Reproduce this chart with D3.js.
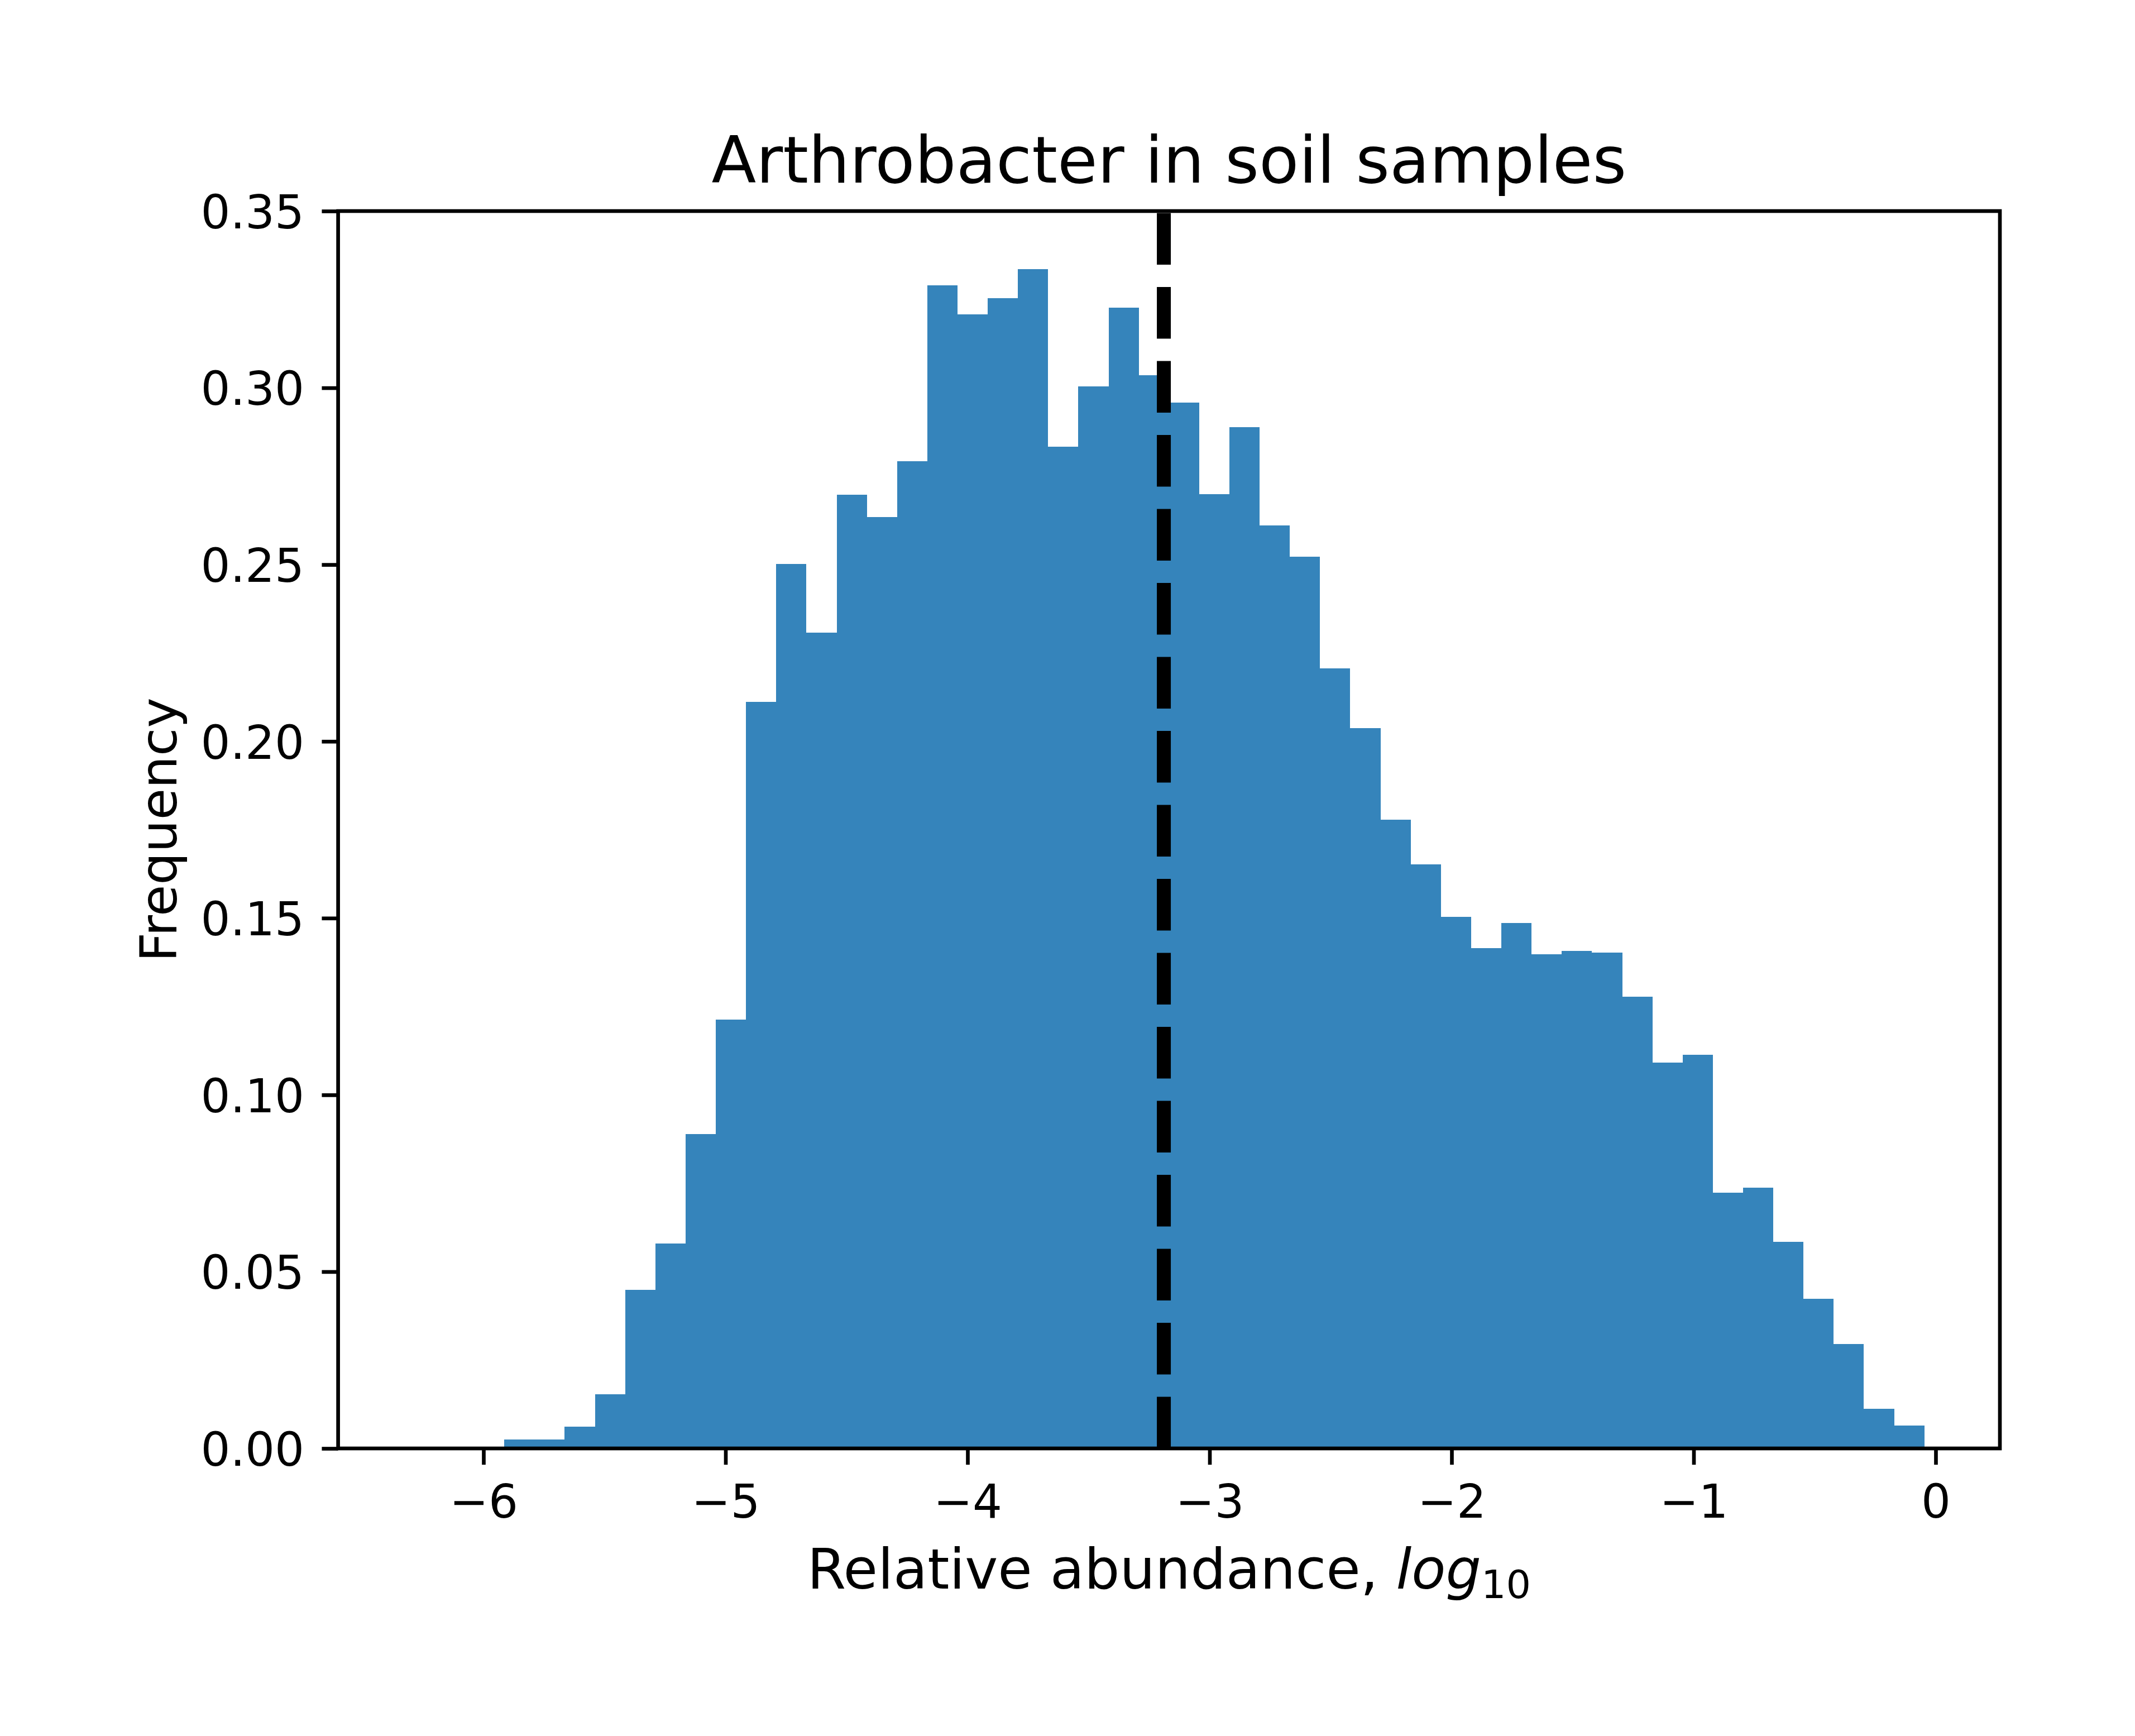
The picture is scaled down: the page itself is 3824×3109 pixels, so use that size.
<!DOCTYPE html>
<html>
<head>
<meta charset="utf-8">
<script src="https://cdn.jsdelivr.net/npm/d3@7"></script>
<style>
  html, body { margin: 0; padding: 0; background: #fff; }
  svg { display: block; }
</style>
</head>
<body>
<script>
// histogram of log10 relative abundance, 50 equal bins
const binMin = -6.2886;
const binMax = -0.0468;
const frequency = [
  0, 0, 0, 0.0025, 0.0025, 0.0062, 0.0153, 0.0449, 0.0579, 0.0890,
  0.1213, 0.2112, 0.2502, 0.2307, 0.2697, 0.2635, 0.2793, 0.3290, 0.3208, 0.3254,
  0.3335, 0.2834, 0.3004, 0.3227, 0.3035, 0.2959, 0.2699, 0.2889, 0.2611, 0.2523,
  0.2207, 0.2038, 0.1779, 0.1652, 0.1504, 0.1415, 0.1487, 0.1397, 0.1407, 0.1402,
  0.1278, 0.1092, 0.1113, 0.0723, 0.0738, 0.0585, 0.0423, 0.0296, 0.0112, 0.0064
];
const medianValue = -3.189;
const xTicks = [-6, -5, -4, -3, -2, -1, 0];
const yTicks = [0, 0.05, 0.10, 0.15, 0.20, 0.25, 0.30, 0.35];

const width = 3824, height = 3109;
const pt = 600 / 72; // px per point
const plot = { left: 605.6, right: 3582, top: 378, bottom: 2594 };

// bins
const binW = (binMax - binMin) / frequency.length;
const bins = frequency.map((f, i) => ({ x0: binMin + i * binW, x1: binMin + (i + 1) * binW, f }));

const span = binMax - binMin;
const x = d3.scaleLinear()
  .domain([binMin - 0.05 * span, binMax + 0.05 * span])
  .range([plot.left, plot.right]);
const y = d3.scaleLinear()
  .domain([0, 0.35])
  .range([plot.bottom, plot.top]);

const svg = d3.select(document.body)
  .append("svg")
  .attr("width", width)
  .attr("height", height)
  .attr("viewBox", `0 0 ${width} ${height}`)
  .style("font-family", "'DejaVu Sans', sans-serif");

svg.append("rect").attr("width", width).attr("height", height).attr("fill", "#fff");

// bars
svg.append("g")
  .attr("shape-rendering", "crispEdges")
  .selectAll("rect")
  .data(bins.filter(d => d.f > 0))
  .join("rect")
  .attr("x", d => x(d.x0))
  .attr("width", d => x(d.x1) - x(d.x0))
  .attr("y", d => y(d.f))
  .attr("height", d => y(0) - y(d.f))
  .attr("fill", "#1f77b4")
  .attr("fill-opacity", 0.9);

// median line (dash pattern starts at bottom like axvline)
svg.append("line")
  .attr("x1", x(medianValue)).attr("x2", x(medianValue))
  .attr("y1", y(0)).attr("y2", y(0.35))
  .attr("stroke", "#000")
  .attr("stroke-width", 3 * pt)
  .attr("stroke-dasharray", `${3.7 * 3 * pt} ${1.6 * 3 * pt}`);

// axes
const tickLen = 3.5 * pt;
const fmtX = d => d < 0 ? "\u2212" + Math.abs(d) : String(d);

const gx = svg.append("g")
  .attr("transform", `translate(0,${plot.bottom})`)
  .call(d3.axisBottom(x).tickValues(xTicks).tickFormat(fmtX)
    .tickSize(tickLen).tickSizeOuter(0).tickPadding(35.7));
const gy = svg.append("g")
  .attr("transform", `translate(${plot.left},0)`)
  .call(d3.axisLeft(y).tickValues(yTicks).tickFormat(d3.format(".2f"))
    .tickSize(tickLen).tickSizeOuter(0).tickPadding(31.4));

[gx, gy].forEach(g => {
  g.select(".domain").remove();
  g.selectAll(".tick line").attr("stroke", "#000").attr("stroke-width", 0.8 * pt);
  g.selectAll(".tick text")
    .attr("fill", "#000")
    .attr("font-size", 10 * pt)
    .attr("font-family", "'DejaVu Sans', sans-serif");
});
gy.selectAll(".tick text").attr("dy", "0.365em");

// spines
svg.append("rect")
  .attr("x", plot.left).attr("y", plot.top)
  .attr("width", plot.right - plot.left)
  .attr("height", plot.bottom - plot.top)
  .attr("fill", "none")
  .attr("stroke", "#000")
  .attr("stroke-width", 0.8 * pt);

const cx = (plot.left + plot.right) / 2;

// title
svg.append("text")
  .attr("x", cx).attr("y", 327)
  .attr("text-anchor", "middle")
  .attr("font-size", 14 * pt)
  .attr("fill", "#000")
  .text("Arthrobacter in soil samples");

// x label with mathtext log_10
const xl = svg.append("text")
  .attr("x", cx).attr("y", 2845)
  .attr("text-anchor", "middle")
  .attr("font-size", 12 * pt)
  .attr("fill", "#000");
xl.append("tspan").text("Relative abundance, ");
xl.append("tspan").attr("font-style", "italic").text("log");
xl.append("tspan").attr("font-size", 12 * pt * 0.7).attr("dy", 17).text("10");

// y label
svg.append("text")
  .attr("transform", `translate(316,${(plot.top + plot.bottom) / 2}) rotate(-90)`)
  .attr("text-anchor", "middle")
  .attr("font-size", 11 * pt)
  .attr("fill", "#000")
  .text("Frequency");
</script>
</body>
</html>
